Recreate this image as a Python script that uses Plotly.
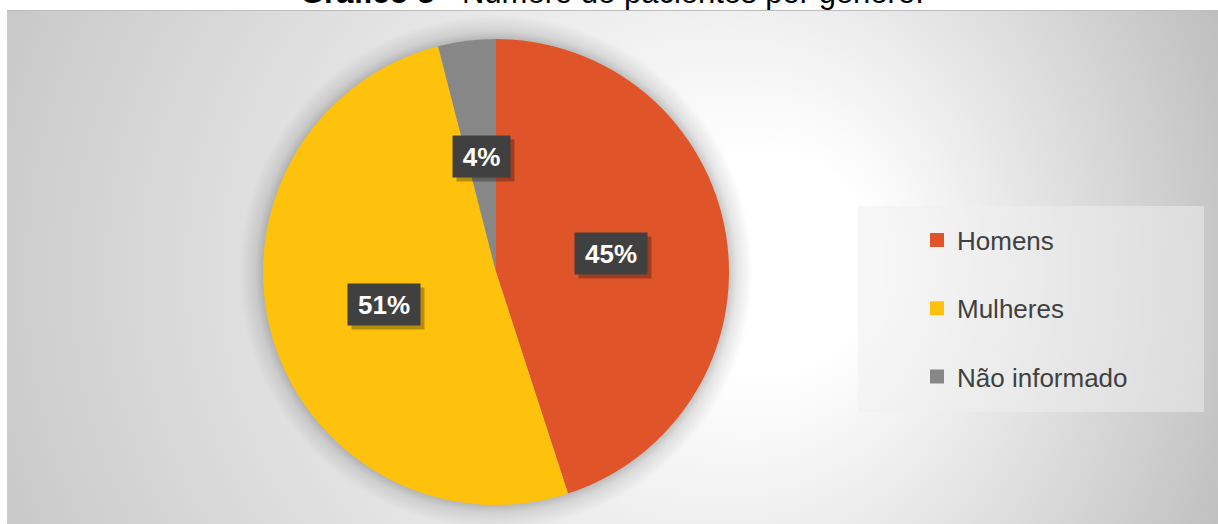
import base64
import math
import plotly.graph_objects as go

# ---- data ----
categories = ["Homens", "Mulheres", "Não informado"]
values = [45, 51, 4]
colors = ["#E0542A", "#FEC20C", "#878787"]
title_bold = "Gráfico 3"
title_rest = " - Número de pacientes por gênero."

# ---- layout geometry (pixels) ----
W, H = 1218, 524
CX, CY, R = 496, 272, 233          # pie centre / radius
AREA_X0, AREA_Y0 = 7, 10           # chart-area top-left corner
FONT = "Liberation Sans, Arial, sans-serif"

# background gradient + pie shadow as an SVG image
aw, ah = W - AREA_X0, H - AREA_Y0
pcx, pcy = CX - AREA_X0, CY - AREA_Y0
sr = R + 24
svg = f'''<svg xmlns="http://www.w3.org/2000/svg" width="{aw}" height="{ah}" viewBox="0 0 {aw} {ah}">
<defs>
<radialGradient id="bg" gradientUnits="userSpaceOnUse" cx="540" cy="270" r="720" fx="800" fy="250">
<stop offset="0" stop-color="#ffffff"/>
<stop offset="0.15" stop-color="#ffffff"/>
<stop offset="1" stop-color="#bfbfbf"/>
</radialGradient>
<radialGradient id="sh" gradientUnits="userSpaceOnUse" cx="{pcx}" cy="{pcy}" r="{sr}">
<stop offset="{(R-2)/sr:.4f}" stop-color="#000000" stop-opacity="0.24"/>
<stop offset="{(R+8)/sr:.4f}" stop-color="#000000" stop-opacity="0.10"/>
<stop offset="1" stop-color="#000000" stop-opacity="0"/>
</radialGradient>
</defs>
<rect x="0" y="0" width="{aw}" height="{ah}" fill="url(#bg)"/>
<circle cx="{pcx}" cy="{pcy}" r="{sr}" fill="url(#sh)"/>
<line x1="0" y1="0.5" x2="{aw}" y2="0.5" stroke="#bdbdbd" stroke-width="1"/>
</svg>'''
svg_uri = "data:image/svg+xml;base64," + base64.b64encode(svg.encode()).decode()

fig = go.Figure()

fig.add_trace(go.Pie(
    labels=categories,
    values=values,
    sort=False,
    direction="clockwise",
    rotation=0,
    marker=dict(colors=colors, line=dict(width=0)),
    textinfo="none",
    showlegend=False,
    domain=dict(x=[(CX - R) / W, (CX + R) / W],
                y=[1 - (CY + R) / H, 1 - (CY - R) / H]),
))

# legend entries
for name, col in zip(categories, colors):
    fig.add_trace(go.Scatter(
        x=[None], y=[None], mode="markers", name=name, legendgroup=name,
        marker=dict(symbol="square", size=14, color=col),
    ))

# data labels at half radius along each slice's mid angle
annotations = []
total = sum(values)
cum = 0
for v in values:
    mid = (cum + v / 2) / total * 2 * math.pi
    cum += v
    px = CX + 0.5 * R * math.sin(mid)
    py = CY - 0.5 * R * math.cos(mid)
    txt = f"{round(v / total * 100)}%"
    bw = 25 + 15 * len(txt)
    # shadow
    annotations.append(dict(
        x=(px + 4) / W, y=1 - (py + 4) / H, xref="paper", yref="paper",
        xanchor="center", yanchor="middle",
        text=f"<b>{txt}</b>", showarrow=False, width=bw, height=39,
        bgcolor="rgba(0,0,0,0.28)", font=dict(family=FONT, size=26, color="rgba(0,0,0,0)"),
    ))
    annotations.append(dict(
        x=px / W, y=1 - py / H, xref="paper", yref="paper",
        xanchor="center", yanchor="middle",
        text=f"<b>{txt}</b>", showarrow=False, width=bw, height=39,
        bgcolor="#404040", font=dict(family=FONT, size=26, color="#ffffff"),
    ))

# title (partly cropped at the top, as in the reference)
annotations.append(dict(
    x=298 / W, y=1 - 11.6 / H, xref="paper", yref="paper",
    xanchor="left", yanchor="bottom", showarrow=False,
    text=f"<b>{title_bold}</b>{title_rest}",
    font=dict(family=FONT, size=31, color="#000000"),
))

fig.update_layout(
    width=W, height=H, autosize=False,
    margin=dict(l=0, r=0, t=0, b=0),
    paper_bgcolor="#ffffff", plot_bgcolor="rgba(0,0,0,0)",
    xaxis=dict(visible=False), yaxis=dict(visible=False),
    images=[dict(source=svg_uri, xref="paper", yref="paper",
                 x=AREA_X0 / W, y=1 - AREA_Y0 / H,
                 sizex=aw / W, sizey=ah / H, sizing="stretch",
                 xanchor="left", yanchor="top", layer="below")],
    shapes=[dict(type="rect", xref="paper", yref="paper",
                 x0=858 / W, x1=1204 / W, y0=1 - 412 / H, y1=1 - 206 / H,
                 fillcolor="rgba(240,240,240,0.5)", line=dict(width=0), layer="below")],
    legend=dict(x=917 / W, y=1 - 216.5 / H, xanchor="left", yanchor="top",
                bgcolor="rgba(0,0,0,0)", borderwidth=0,
                font=dict(family=FONT, size=26, color="#404040"),
                traceorder="grouped", tracegroupgap=31.5, itemwidth=30),
    annotations=annotations,
    hovermode=False,
)

fig.write_html("out.html")
